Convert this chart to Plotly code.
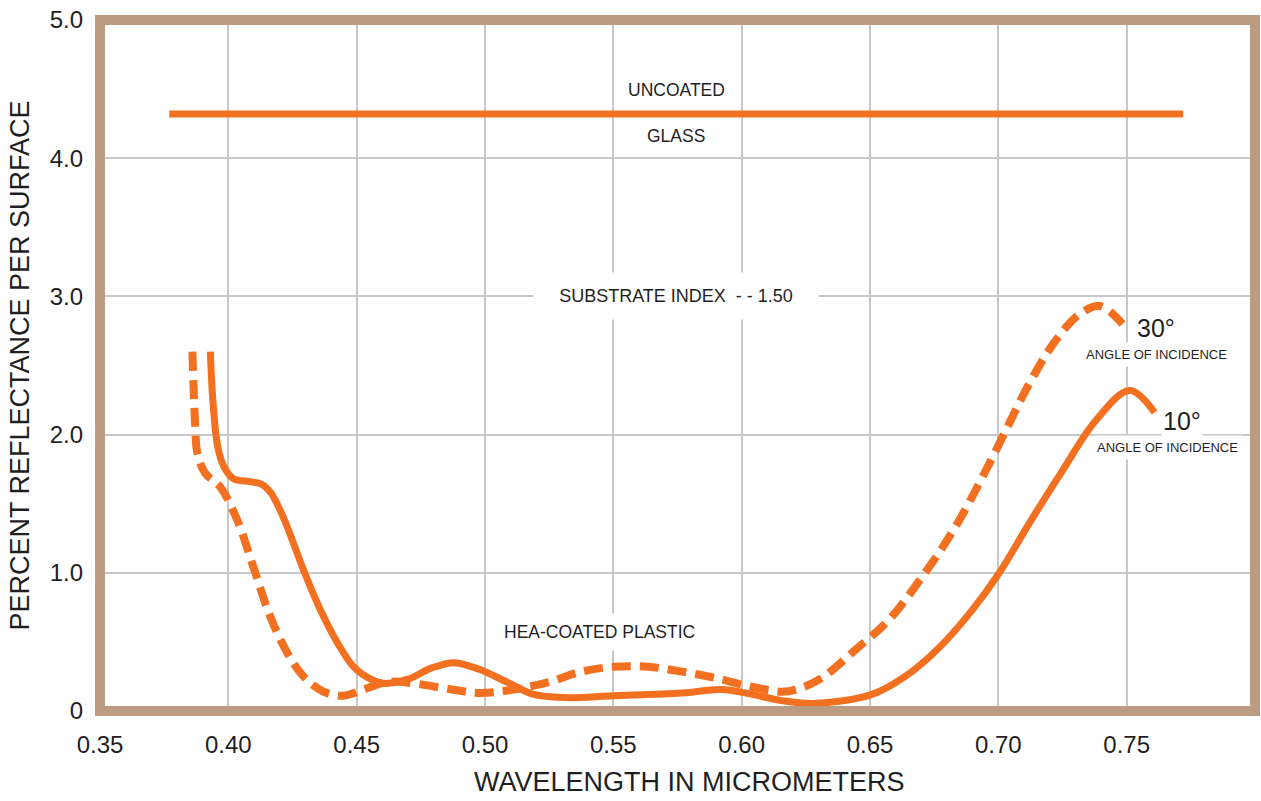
import plotly.graph_objects as go

# ---- data ----
uncoated_x = [0.377, 0.772]
uncoated_y = [4.32, 4.32]

deg10_x = [0.393, 0.394, 0.396, 0.3985, 0.4020, 0.4085, 0.4130, 0.4165, 0.4195, 0.4230,
           0.4293, 0.4359, 0.4426, 0.4488, 0.4555, 0.4605, 0.47, 0.479, 0.488, 0.498,
           0.509, 0.519, 0.531, 0.55, 0.5766, 0.592, 0.6027, 0.6156, 0.628, 0.6508,
           0.6637, 0.677, 0.6898, 0.7004, 0.7121, 0.725, 0.7379, 0.7512, 0.7609]
deg10_y = [2.60, 2.24, 1.90, 1.76, 1.68, 1.66, 1.64, 1.58, 1.48, 1.33,
           1.02, 0.73, 0.49, 0.32, 0.23, 0.20, 0.23, 0.31, 0.35, 0.30,
           0.205, 0.12, 0.097, 0.11, 0.13, 0.155, 0.126, 0.075, 0.055, 0.12,
           0.25, 0.46, 0.73, 1.00, 1.36, 1.74, 2.10, 2.32, 2.16]

deg30_x = [0.386, 0.387, 0.388, 0.391, 0.3969, 0.4035, 0.4098, 0.4164, 0.4230, 0.4293,
           0.437, 0.4445, 0.452, 0.462, 0.472, 0.487, 0.498, 0.511, 0.525, 0.5375,
           0.5504, 0.5637, 0.5766, 0.5895, 0.6027, 0.6156, 0.622, 0.6313, 0.6441, 0.6574,
           0.6703, 0.6832, 0.6965, 0.7121, 0.7223, 0.7316, 0.7395, 0.7484]
deg30_y = [2.60, 2.10, 1.86, 1.72, 1.62, 1.38, 1.04, 0.68, 0.42, 0.25,
           0.14, 0.11, 0.15, 0.21, 0.20, 0.155, 0.13, 0.155, 0.21, 0.285,
           0.32, 0.32, 0.285, 0.24, 0.18, 0.14, 0.16, 0.24, 0.44, 0.66,
           0.97, 1.33, 1.79, 2.37, 2.68, 2.87, 2.93, 2.80]

x_ticks = [0.35, 0.40, 0.45, 0.50, 0.55, 0.60, 0.65, 0.70, 0.75]
x_tick_labels = ["0.35", "0.40", "0.45", "0.50", "0.55", "0.60", "0.65", "0.70", "0.75"]
y_ticks = [0, 1, 2, 3, 4, 5]
y_tick_labels = ["0", "1.0", "2.0", "3.0", "4.0", "5.0"]

ORANGE = "#F37021"
FRAME = "#BC9C80"
GRID = "#C8C8C8"
REG = "Liberation Sans, Arial, sans-serif"
TXT = "#1f1f1f"

fig = go.Figure()
fig.add_trace(go.Scatter(x=uncoated_x, y=uncoated_y, mode="lines",
                         line=dict(color=ORANGE, width=7), hoverinfo="skip"))
fig.add_trace(go.Scatter(x=deg10_x, y=deg10_y, mode="lines",
                         line=dict(color=ORANGE, width=7, shape="spline", smoothing=1.0),
                         hoverinfo="skip"))
fig.add_trace(go.Scatter(x=deg30_x, y=deg30_y, mode="lines",
                         line=dict(color=ORANGE, width=8, shape="spline", smoothing=1.0,
                                   dash="19px,9px"),
                         hoverinfo="skip"))

def ann(text, x, y, size, pad=2, xanchor="center", width=None, height=None):
    d = dict(text=text, x=x, y=y, xref="x", yref="y", showarrow=False,
             font=dict(family=REG, size=size, color=TXT),
             bgcolor="white", borderpad=pad, xanchor=xanchor, yanchor="middle")
    if width:
        d["width"] = width
    if height:
        d["height"] = height
    fig.add_annotation(**d)

ann("UNCOATED", 0.5745, 4.49, 17.5)
ann("GLASS", 0.5745, 4.16, 17.5)
ann("SUBSTRATE INDEX&nbsp;&nbsp;- - 1.50", 0.5745, 3.0, 18, pad=10, width=264, height=26)
ann("HEA-COATED PLASTIC", 0.5445, 0.573, 17.5, pad=8)
ann("30°", 0.7531, 2.77, 25, pad=1, xanchor="left")
ann("ANGLE OF INCIDENCE", 0.7324, 2.58, 13, pad=4, xanchor="left")
ann("10°", 0.7632, 2.10, 25, pad=1, xanchor="left")
ann("ANGLE OF INCIDENCE", 0.7363, 1.905, 13, pad=4, xanchor="left")

# x-axis title (placed as paper annotation to match reference offset)
fig.add_annotation(text="WAVELENGTH IN MICROMETERS", xref="paper", yref="paper",
                   x=0.5108, y=-0.103, xanchor="center", yanchor="middle",
                   showarrow=False, font=dict(family=REG, size=27, color=TXT))

# frame
fig.add_shape(type="rect", xref="paper", yref="paper", x0=0, x1=1, y0=0, y1=1,
              line=dict(color=FRAME, width=10), layer="above")

fig.update_layout(
    width=1261, height=801,
    margin=dict(l=100, r=6, t=18, b=90),
    paper_bgcolor="white", plot_bgcolor="white",
    showlegend=False,
    font=dict(family=REG, color=TXT),
    xaxis=dict(range=[0.35, 0.80], tickvals=x_ticks, ticktext=x_tick_labels,
               showgrid=True, gridcolor=GRID, gridwidth=2, zeroline=False,
               showline=False, ticks="", ticklabelstandoff=17,
               tickfont=dict(size=24, family=REG)),
    yaxis=dict(range=[0, 5], tickvals=y_ticks, ticktext=y_tick_labels,
               showgrid=True, gridcolor=GRID, gridwidth=2, zeroline=False,
               showline=False, ticks="", ticklabelstandoff=16,
               tickfont=dict(size=24, family=REG),
               title=dict(text="PERCENT REFLECTANCE PER SURFACE", font=dict(size=27, family=REG),
                          standoff=12)),
)

fig.write_html("out.html")
